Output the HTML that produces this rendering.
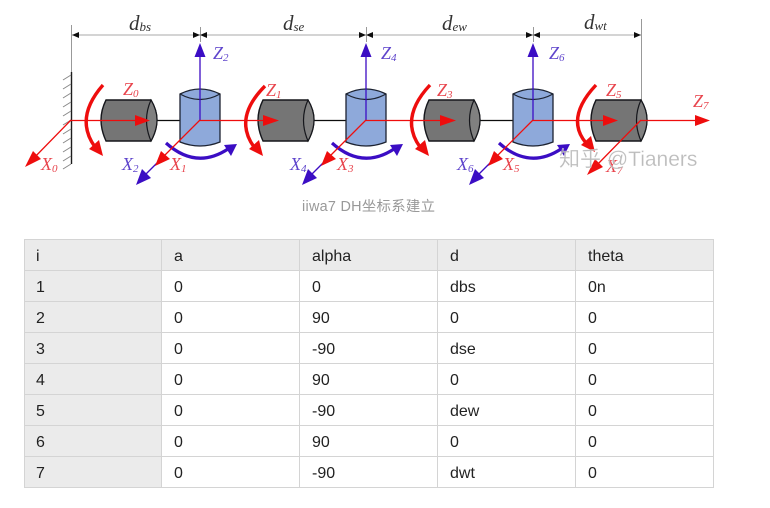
<!DOCTYPE html>
<html><head><meta charset="utf-8"><style>
html,body{margin:0;padding:0;background:#fff;width:770px;height:508px;overflow:hidden}
svg{display:block}
.t{font:16px "Liberation Sans","Noto Sans CJK SC",sans-serif;fill:#222}
.m{font:italic 18px "Liberation Serif",serif}
.r{fill:#e8454e}.b{fill:#5f45cc}
.s{font-size:11px}
.d{font:italic 21px "Liberation Serif",serif;fill:#333}
</style></head><body>
<svg width="770" height="508" viewBox="0 0 770 508" xmlns="http://www.w3.org/2000/svg">
<defs>
<filter id="soft" x="0" y="0" width="100%" height="100%"><feGaussianBlur stdDeviation="0.35"/></filter>
<g id="blue">
<path d="M-20,-26 Q0,-36 20,-26 V22 Q0,30 -20,22 Z" fill="#8ea9da" stroke="#1c2430" stroke-width="1.3"/>
<path d="M-20,-26 Q0,-15 20,-26" fill="none" stroke="#1c2430" stroke-width="1.2"/>
<path d="M-34,23 Q-4,50 28,29" fill="none" stroke="#3a0fc4" stroke-width="3.2"/>
<path d="M37,24 L24,25 L31,36 Z" fill="#3a0fc4"/>
<path d="M0,-64 V0" stroke="#3a0fc4" stroke-width="1.3"/>
<path d="M0,-77 L-5.5,-63 H5.5 Z" fill="#3a0fc4"/>
<path d="M-40,40 L-60,60" stroke="#3a0fc4" stroke-width="1.3"/>
<path d="M-64,65 L-58,49 L-49,58 Z" fill="#3a0fc4"/>
<path d="M0,0 L-38,38" stroke="#ee1111" stroke-width="1.3"/>
<path d="M-45,46 L-39,31 L-30,39 Z" fill="#ee1111"/>
</g>
<g id="gray">
<path d="M5,-20 H50 Q56,-10 56,0 Q56,10 50,21 H5 Q0,10 0,0 Q0,-10 5,-20 Z" fill="#747474" stroke="#15191c" stroke-width="1.4"/>
<path d="M50,-20 Q41,0 50,21 Q56,10 56,0 Q56,-10 50,-20 Z" fill="#808080" stroke="#15191c" stroke-width="1.2"/>
</g>
</defs>

<rect width="770" height="508" fill="#fff"/>

<g filter="url(#soft)">
<!-- dimension lines -->
<g stroke="#999" stroke-width="1" fill="none">
<path d="M71.5,25 V72"/><path d="M200.5,27 V42"/><path d="M366.5,27 V42"/><path d="M533.5,27 V42"/><path d="M641.5,19 V100"/>
<path d="M72,35 H641" stroke="#aaa"/>
</g>
<g fill="#111">
<path d="M72,35 L79,32 V38 Z"/><path d="M200,35 L193,32 V38 Z"/><path d="M200,35 L207,32 V38 Z"/>
<path d="M366,35 L359,32 V38 Z"/><path d="M366,35 L373,32 V38 Z"/>
<path d="M533,35 L526,32 V38 Z"/><path d="M533,35 L540,32 V38 Z"/><path d="M641,35 L634,32 V38 Z"/>
</g>
<text x="129" y="30" class="d">d<tspan font-size="13" dy="1">bs</tspan></text>
<text x="283" y="30" class="d">d<tspan font-size="13" dy="1">se</tspan></text>
<text x="442" y="30" class="d">d<tspan font-size="13" dy="1">ew</tspan></text>
<text x="584" y="29" class="d">d<tspan font-size="13" dy="1">wt</tspan></text>

<!-- wall -->
<path d="M71.5,72 V164" stroke="#1a1a1a" stroke-width="1.4"/>
<path d="M71,75 L63,80 M71,84 L63,89 M71,93 L63,98 M71,102 L63,107 M71,111 L63,116 M71,120 L63,125 M71,129 L63,134 M71,138 L63,143 M71,147 L63,152 M71,156 L63,161 M71,164 L63,169" stroke="#888" stroke-width="1"/>

<!-- connecting lines -->
<path d="M150,120.5 H180 M313,120.5 H346 M480,120.5 H513" stroke="#111" stroke-width="1.2"/>

<use href="#gray" x="101" y="120"/>
<use href="#gray" x="258" y="120"/>
<use href="#gray" x="424" y="120"/>
<use href="#gray" x="591" y="120"/>
<use href="#blue" x="200" y="120"/>
<use href="#blue" x="366" y="120"/>
<use href="#blue" x="533" y="120"/>

<!-- red axes -->
<g stroke="#ee1111" stroke-width="1.3" fill="none">
<path d="M71,120.5 H136"/><path d="M200,120.5 H264"/><path d="M366,120.5 H441"/><path d="M533,120.5 H604"/>
<path d="M641,120.5 H698"/><path d="M71,120 L30,162"/><path d="M641,120 L594,168"/>
</g>
<g fill="#ee1111">
<path d="M150,120.5 L135,115 V126 Z"/>
<path d="M279,120.5 L263,115 V126 Z"/>
<path d="M456,120.5 L440,115 V126 Z"/>
<path d="M618,120.5 L603,115 V126 Z"/>
<path d="M710,120.5 L695,115 V126 Z"/>
<path d="M25,167 L33,151 L41,159 Z"/>
<path d="M587,175 L595,159 L603,167 Z"/>
</g>

<!-- red rotation arrows -->
<g fill="none" stroke="#ee1111" stroke-width="3.4">
<path d="M103,85 Q74,118 95,147"/>
<path d="M265,86 Q233,118 254,147"/>
<path d="M430,85 Q399,118 420,147"/>
<path d="M596,85 Q565,118 586,143"/>
</g>
<g fill="#ee1111">
<path d="M103,156 L89,149 L99,140 Z"/>
<path d="M263,156 L249,149 L259,140 Z"/>
<path d="M429,156 L415,149 L425,140 Z"/>
<path d="M595,152 L581,145 L591,136 Z"/>
</g>

<!-- labels -->
<g class="m">
<text x="123" y="95" class="r">Z<tspan class="s" dy="2">0</tspan></text>
<text x="266" y="96" class="r">Z<tspan class="s" dy="2">1</tspan></text>
<text x="437" y="96" class="r">Z<tspan class="s" dy="2">3</tspan></text>
<text x="606" y="96" class="r">Z<tspan class="s" dy="2">5</tspan></text>
<text x="693" y="107" class="r">Z<tspan class="s" dy="2">7</tspan></text>
<text x="213" y="59" class="b">Z<tspan class="s" dy="2">2</tspan></text>
<text x="381" y="59" class="b">Z<tspan class="s" dy="2">4</tspan></text>
<text x="549" y="59" class="b">Z<tspan class="s" dy="2">6</tspan></text>
<text x="41" y="170" class="r">X<tspan class="s" dy="2">0</tspan></text>
<text x="170" y="170" class="r">X<tspan class="s" dy="2">1</tspan></text>
<text x="337" y="170" class="r">X<tspan class="s" dy="2">3</tspan></text>
<text x="503" y="170" class="r">X<tspan class="s" dy="2">5</tspan></text>
<text x="606" y="172" class="r">X<tspan class="s" dy="2">7</tspan></text>
<text x="122" y="170" class="b">X<tspan class="s" dy="2">2</tspan></text>
<text x="290" y="170" class="b">X<tspan class="s" dy="2">4</tspan></text>
<text x="457" y="170" class="b">X<tspan class="s" dy="2">6</tspan></text>
</g>

<!-- watermark -->
<text x="559" y="166" font-family="'Liberation Sans','Noto Sans CJK SC',sans-serif" font-size="21" fill="#b0b0b0" fill-opacity=".85" stroke="#fff" stroke-opacity=".5" stroke-width=".4">知乎 @Tianers</text>
</g>

<!-- caption -->
<text x="302" y="211" font-family="'Liberation Sans','Noto Sans CJK SC',sans-serif" font-size="14.4" fill="#999" textLength="133" lengthAdjust="spacing">iiwa7 DH坐标系建立</text>

<!-- table -->
<rect x="24.5" y="239.5" width="689" height="31" fill="#ebebeb"/>
<rect x="24.5" y="270.5" width="137" height="217" fill="#ebebeb"/>
<g stroke="#d4d4d4" stroke-width="1" fill="none">
<path d="M24.5,239.5 H713.5 M24.5,270.5 H713.5 M24.5,301.5 H713.5 M24.5,332.5 H713.5 M24.5,363.5 H713.5 M24.5,394.5 H713.5 M24.5,425.5 H713.5 M24.5,456.5 H713.5 M24.5,487.5 H713.5"/>
<path d="M24.5,239 V488 M161.5,239 V488 M299.5,239 V488 M437.5,239 V488 M575.5,239 V488 M713.5,239 V488"/>
</g>
<g class="t">
<text x="36" y="261">i</text><text x="174" y="261">a</text><text x="312" y="261">alpha</text><text x="450" y="261">d</text><text x="588" y="261">theta</text>
<text x="36" y="292">1</text><text x="174" y="292">0</text><text x="312" y="292">0</text><text x="450" y="292">dbs</text><text x="588" y="292">0n</text>
<text x="36" y="323">2</text><text x="174" y="323">0</text><text x="312" y="323">90</text><text x="450" y="323">0</text><text x="588" y="323">0</text>
<text x="36" y="354">3</text><text x="174" y="354">0</text><text x="312" y="354">-90</text><text x="450" y="354">dse</text><text x="588" y="354">0</text>
<text x="36" y="385">4</text><text x="174" y="385">0</text><text x="312" y="385">90</text><text x="450" y="385">0</text><text x="588" y="385">0</text>
<text x="36" y="416">5</text><text x="174" y="416">0</text><text x="312" y="416">-90</text><text x="450" y="416">dew</text><text x="588" y="416">0</text>
<text x="36" y="447">6</text><text x="174" y="447">0</text><text x="312" y="447">90</text><text x="450" y="447">0</text><text x="588" y="447">0</text>
<text x="36" y="478">7</text><text x="174" y="478">0</text><text x="312" y="478">-90</text><text x="450" y="478">dwt</text><text x="588" y="478">0</text>
</g>
</svg>
</body></html>
